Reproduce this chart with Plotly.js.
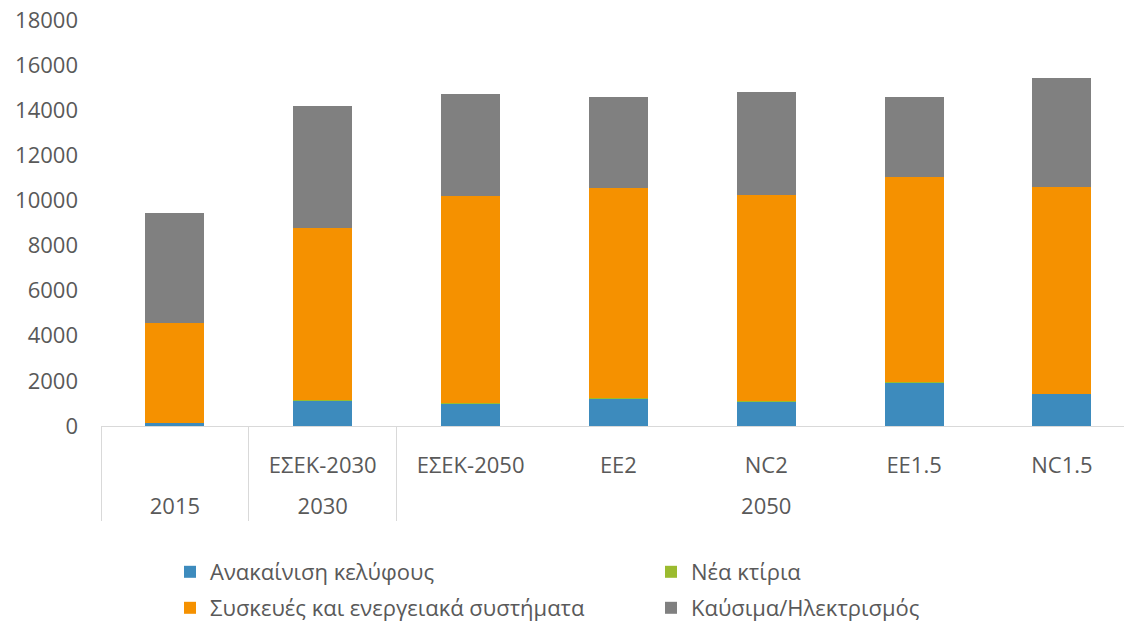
<!DOCTYPE html>
<html>
<head>
<meta charset="utf-8">
<script src="https://cdn.plot.ly/plotly-3.0.1.min.js"></script>
<style>html,body{margin:0;padding:0;background:#fff;}#chart{width:1124px;height:633px;}</style>
</head>
<body>
<div id="chart"></div>
<script>
// Data
const years = ['2015', '2030', '2050', '2050', '2050', '2050', '2050'];
const scenarios = [' ', 'ΕΣΕΚ-2030', 'ΕΣΕΚ-2050', 'EE2', 'NC2', 'EE1.5', 'NC1.5'];
const seriesNames = ['Ανακαίνιση κελύφους', 'Νέα κτίρια', 'Συσκευές και ενεργειακά συστήματα', 'Καύσιμα/Ηλεκτρισμός'];
const renovation = [120, 1100, 960, 1180, 1070, 1910, 1400];
const newBuildings = [30, 40, 40, 40, 40, 50, 40];
const appliances = [4416, 7637, 9195, 9343, 9129, 9091, 9168];
const fuels = [4874, 5407, 4508, 4007, 4552, 3519, 4804];
const yTicks = [0, 2000, 4000, 6000, 8000, 10000, 12000, 14000, 16000, 18000];

const colors = ['#3d8bbd', '#9bbb2f', '#f59100', '#808080'];
const values = [renovation, newBuildings, appliances, fuels];
const legendIds = ['legend', 'legend2', 'legend3', 'legend4'];

const font = {family: 'Open Sans, Noto Sans, sans-serif', size: 22, color: '#595959'};

// inner labels get an empty second line so the outer row sits lower, as in the reference
const innerLabels = scenarios.map(s => s + '<br> ');

const traces = values.map((v, i) => ({
  type: 'bar',
  name: seriesNames[i],
  x: [years, innerLabels],
  y: v,
  marker: {color: colors[i]},
  legend: legendIds[i]
}));

function legendBox(xPx, yPx) {
  return {
    orientation: 'h',
    xref: 'container', yref: 'container',
    x: xPx / 1124, xanchor: 'left',
    y: 1 - yPx / 633, yanchor: 'middle',
    font: font,
    bgcolor: 'rgba(0,0,0,0)',
    borderwidth: 0
  };
}

const layout = {
  width: 1124,
  height: 633,
  margin: {l: 101, r: 0, t: 20, b: 207},
  barmode: 'stack',
  bargap: 0.6,
  paper_bgcolor: '#ffffff',
  plot_bgcolor: '#ffffff',
  font: font,
  showlegend: true,
  xaxis: {
    type: 'multicategory',
    range: [-0.5, 6.42],
    showline: true,
    linecolor: '#d9d9d9',
    linewidth: 1,
    showgrid: false,
    zeroline: false,
    ticks: '',
    showdividers: true,
    dividercolor: '#d9d9d9',
    dividerwidth: 1,
    ticklabelstandoff: 20,
    tickfont: font
  },
  yaxis: {
    range: [0, 18000],
    tickvals: yTicks,
    ticktext: yTicks.map(String),
    showgrid: false,
    zeroline: false,
    showline: false,
    ticks: '',
    ticklabelstandoff: 22,
    tickfont: font
  },
  legend: legendBox(170, 572),
  legend2: legendBox(651, 572),
  legend3: legendBox(170, 608),
  legend4: legendBox(651, 608)
};

Plotly.newPlot('chart', traces, layout, {staticPlot: true, displayModeBar: false});
</script>
</body>
</html>
